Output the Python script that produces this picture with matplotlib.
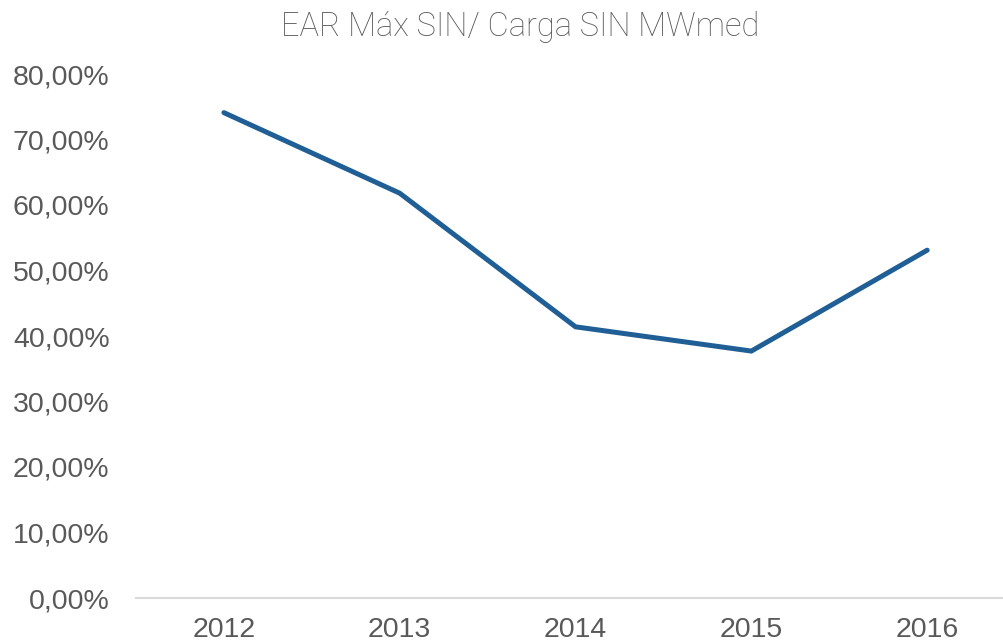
import matplotlib
matplotlib.use("Agg")
import matplotlib.pyplot as plt
from matplotlib.ticker import FuncFormatter

YEARS = ["2012", "2013", "2014", "2015", "2016"]
EAR_RATIO = [74.1, 61.8, 41.4, 37.7, 53.1]
Y_TICKS = [0, 10, 20, 30, 40, 50, 60, 70, 80]

GRAY = "#595959"


def pct(v, _):
    return f"{v:.2f}".replace(".", ",") + "%"


def plot_ear():
    fig = plt.figure(figsize=(10.04, 6.44), dpi=100)
    ax = fig.add_axes([136 / 1004, 1 - 598 / 644, 1 - 136 / 1004, (598 - 74) / 644])

    x = range(len(YEARS))
    ax.plot(x, EAR_RATIO, color="#1F5F95", linewidth=3.6,
            solid_capstyle="round", solid_joinstyle="miter")

    ax.set_xlim(-0.5, 4.437)
    ax.set_ylim(0, 80)
    ax.set_yticks(Y_TICKS)
    ax.yaxis.set_major_formatter(FuncFormatter(pct))
    ax.set_xticks(list(x))
    ax.set_xticklabels(YEARS)

    for side in ["top", "right", "left"]:
        ax.spines[side].set_visible(False)
    ax.spines["bottom"].set_color("#D9D9D9")
    ax.spines["bottom"].set_linewidth(1.5)
    ax.tick_params(length=0, labelsize=20.5, labelcolor=GRAY)
    ax.tick_params(axis="x", pad=14)
    ax.tick_params(axis="y", pad=19)
    for lbl in ax.get_xticklabels() + ax.get_yticklabels():
        lbl.set_family("Liberation Sans")

    fig.text(0.518, 0.958, "EAR Máx SIN/ Carga SIN MWmed", ha="center", va="center",
             fontsize=23.5, color="#595959", family="Roboto", fontweight="light")

    fig.savefig("out.png", dpi=100)


if __name__ == "__main__":
    plot_ear()
